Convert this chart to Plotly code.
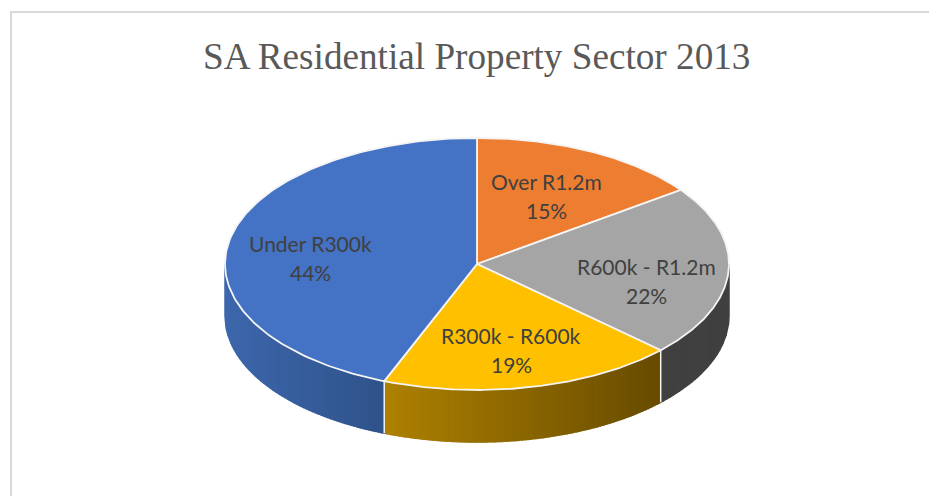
import numpy as np
import plotly.graph_objects as go

# Data, clockwise from 12 o'clock
categories = ["Over R1.2m", "R600k - R1.2m", "R300k - R600k", "Under R300k"]
shares = [15, 22, 19, 44]
title_text = "SA Residential Property Sector 2013"

# Styles
top_colors = ["#ED7D31", "#A5A5A5", "#FFC000", "#4472C4"]
side_start = {0: (140, 74, 29), 1: (64, 64, 64), 2: (103, 75, 0), 3: (47, 82, 137)}
side_end = {0: (140, 74, 29), 1: (64, 64, 64), 2: (174, 129, 0), 3: (61, 103, 172)}

# Layout (pixels)
W, H = 929, 496
CX, CY, RX, RY, DEPTH = 477, 264, 252, 126, 52
label_px = [(546, 181, 210), (646, 266, 295), (511, 335, 364), (310, 243, 272)]

def px_x(u):
    return CX + RX * np.asarray(u)

def px_y(v):
    return CY - RY * np.asarray(v)

fracs = np.array(shares) / sum(shares)
edges = np.concatenate([[0], np.cumsum(fracs)]) * 2 * np.pi

fig = go.Figure()

# Side walls, as narrow strips with a horizontal colour ramp (equal pixel steps in x)
for i in range(len(shares)):
    a0, a1 = edges[i], edges[i + 1]
    lo, hi = max(a0, np.pi / 2), min(a1, 3 * np.pi / 2)
    if lo >= hi:
        continue
    x_right, x_left = np.sin(lo), np.sin(hi)
    n = max(2, int((x_right - x_left) * RX / 3))
    us = np.linspace(x_right, x_left, n + 1)
    ts = np.pi - np.arcsin(np.clip(us, -1, 1))
    for k in range(n):
        t = np.linspace(ts[k], ts[k + 1], 8)
        xs = px_x(np.sin(t))
        ys = px_y(np.cos(t))
        mix = 1 - ((us[k] + us[k + 1]) / 2 - x_left) / (x_right - x_left)
        c0, c1 = side_start[i], side_end[i]
        col = "rgb(%d,%d,%d)" % tuple(round(c0[j] + (c1[j] - c0[j]) * mix) for j in range(3))
        px = np.concatenate([xs, xs[::-1], xs[:1]])
        py = np.concatenate([ys, ys[::-1] + DEPTH, ys[:1]])
        fig.add_trace(go.Scatter(x=px, y=py, mode="lines", fill="toself", fillcolor=col,
                                 line=dict(color=col, width=1.5), hoverinfo="skip", showlegend=False))

# White vertical seams on the wall
for a in edges[1:-1]:
    if np.pi / 2 < a < 3 * np.pi / 2:
        x = px_x(np.sin(a)); y = px_y(np.cos(a))
        fig.add_trace(go.Scatter(x=[x, x], y=[y, y + DEPTH], mode="lines",
                                 line=dict(color="#F2F2F2", width=1.5), hoverinfo="skip", showlegend=False))

# Top face wedges
for i, name in enumerate(categories):
    t = np.linspace(edges[i], edges[i + 1], 160)
    xs = np.concatenate([[CX], px_x(np.sin(t)), [CX]])
    ys = np.concatenate([[CY], px_y(np.cos(t)), [CY]])
    fig.add_trace(go.Scatter(x=xs, y=ys, mode="lines", fill="toself", fillcolor=top_colors[i],
                             line=dict(color="#F4F4F4", width=1.8), name=name,
                             hovertemplate=f"{name}: {shares[i]}%<extra></extra>", showlegend=False))

# Labels
ann = []
for name, share, (lx, y1, y2) in zip(categories, shares, label_px):
    for txt, ly in ((name, y1), (f"{share}%", y2)):
        ann.append(dict(x=lx, y=ly, xref="x", yref="y", text=txt, showarrow=False,
                        xanchor="center", yanchor="middle",
                        font=dict(family="Lato", size=21, color="#404040")))
ann.append(dict(x=476.5, y=56, xref="x", yref="y", text=title_text, showarrow=False,
                xanchor="center", yanchor="middle",
                font=dict(family="Liberation Serif", size=37.2, color="#595959")))

fig.update_layout(
    width=W, height=H, margin=dict(l=0, r=0, t=0, b=0),
    paper_bgcolor="white", plot_bgcolor="white", showlegend=False,
    xaxis=dict(range=[0, W], visible=False, fixedrange=True),
    yaxis=dict(range=[H, 0], visible=False, fixedrange=True),
    annotations=ann,
    shapes=[
        dict(type="line", xref="x", yref="y", x0=11, x1=11, y0=11, y1=H, line=dict(color="#D9D9D9", width=2)),
        dict(type="line", xref="x", yref="y", x0=10, x1=W, y0=12, y1=12, line=dict(color="#D9D9D9", width=2)),
    ],
)
fig.write_html("out.html", config={"displayModeBar": False},
               post_script="document.body.style.margin='0';document.documentElement.style.overflow='hidden';")
